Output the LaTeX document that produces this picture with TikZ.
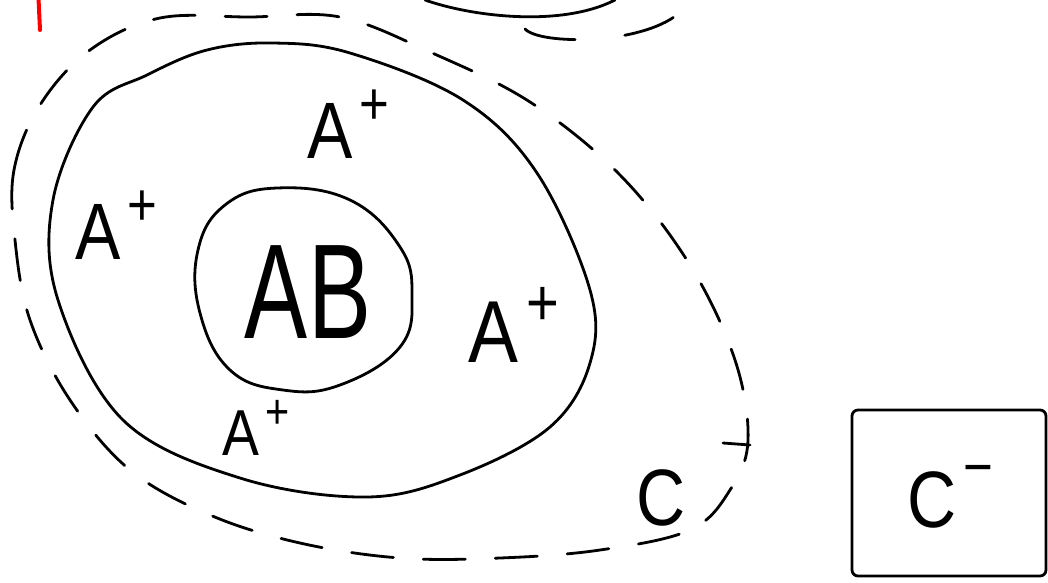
\documentclass[tikz,border=0pt]{standalone}
\usepackage{fontspec}
\setmainfont{Liberation Sans}
\usepackage{tikz}
\usetikzlibrary{positioning}
\tikzstyle{pen} = [line width=2.8pt, line cap=round, line join=round]
\tikzstyle{dashpen} = [pen, dash pattern=on 42pt off 30pt]
\tikzstyle{charge} = [font=\fontsize{80}{80}\selectfont, inner sep=0pt, xscale=0.85]
\tikzstyle{box} = [rectangle, draw, pen, minimum width=194pt, minimum height=166pt, rounded corners=6pt]
\newcommand{\ionsign}[2][0.42em]{\hspace{0.1em}\raisebox{#1}{\scalebox{0.75}{#2}}}

\begin{document}
\begin{tikzpicture}[x=1pt, y=-1pt]
    \useasboundingbox (0,0) rectangle (1048,582);

    % red mark, top left
    \draw[pen, red, line width=4pt] (38.5,-2) -- (40,30);

    % cell at the top edge
    \draw[pen] (425,0) .. controls (470,16) and (560,28) .. (615,0);
    \draw[dashpen, dash pattern=on 52pt off 50pt] (525,29) .. controls (540,45) and (640,45) .. (678,14);

    % dashed region C
    \draw[dashpen] plot[smooth cycle, tension=0.6] coordinates {
        (15,240) (14,170) (40,105) (90,50) (160,18) (250,17) (340,17)
        (430,52) (530,102) (620,175) (690,265) (735,360) (748,440)
        (730,490) (690,530) (600,550) (500,558) (400,558) (300,543)
        (210,515) (130,470) (70,400) (30,320)};
    \draw[pen] (723,443) -- (750,445);

    % big cell
    \draw[pen] plot[smooth cycle, tension=0.6] coordinates {
        (273,43) (350,53) (463,100) (537,173) (590,290) (590,363)
        (550,427) (460,475) (367,497) (240,478) (123,420) (58,300)
        (53,200) (93,107) (147,75) (207,50)};

    % inner cell
    \draw[pen] plot[smooth cycle, tension=0.7] coordinates {
        (277,188) (350,200) (400,247) (412,295) (400,347) (340,385)
        (283,390) (230,370) (200,313) (198,250) (225,205)};
    \node[font=\fontsize{135}{135}\selectfont, xscale=0.7, inner sep=0pt] (ab) at (308,292) {AB};

    \node[charge] (aptop) at (348,124) {A\ionsign{+}};
    \node[charge] (apleft) at (116,225) {A\ionsign{+}};
    \node[charge, font=\fontsize{88}{88}\selectfont] (apright) at (514,325) {A\ionsign{+}};
    \node[charge, font=\fontsize{65}{65}\selectfont] (apbottom) at (256,428) {A\ionsign{+}};
    \node[charge] (c) at (661,498) {C};

    \node[box] (cminus) at (949,493) {};
    \node[charge] (cminuslabel) at (950,497) {C\ionsign[0.5em]{−}};
\end{tikzpicture}
\end{document}
